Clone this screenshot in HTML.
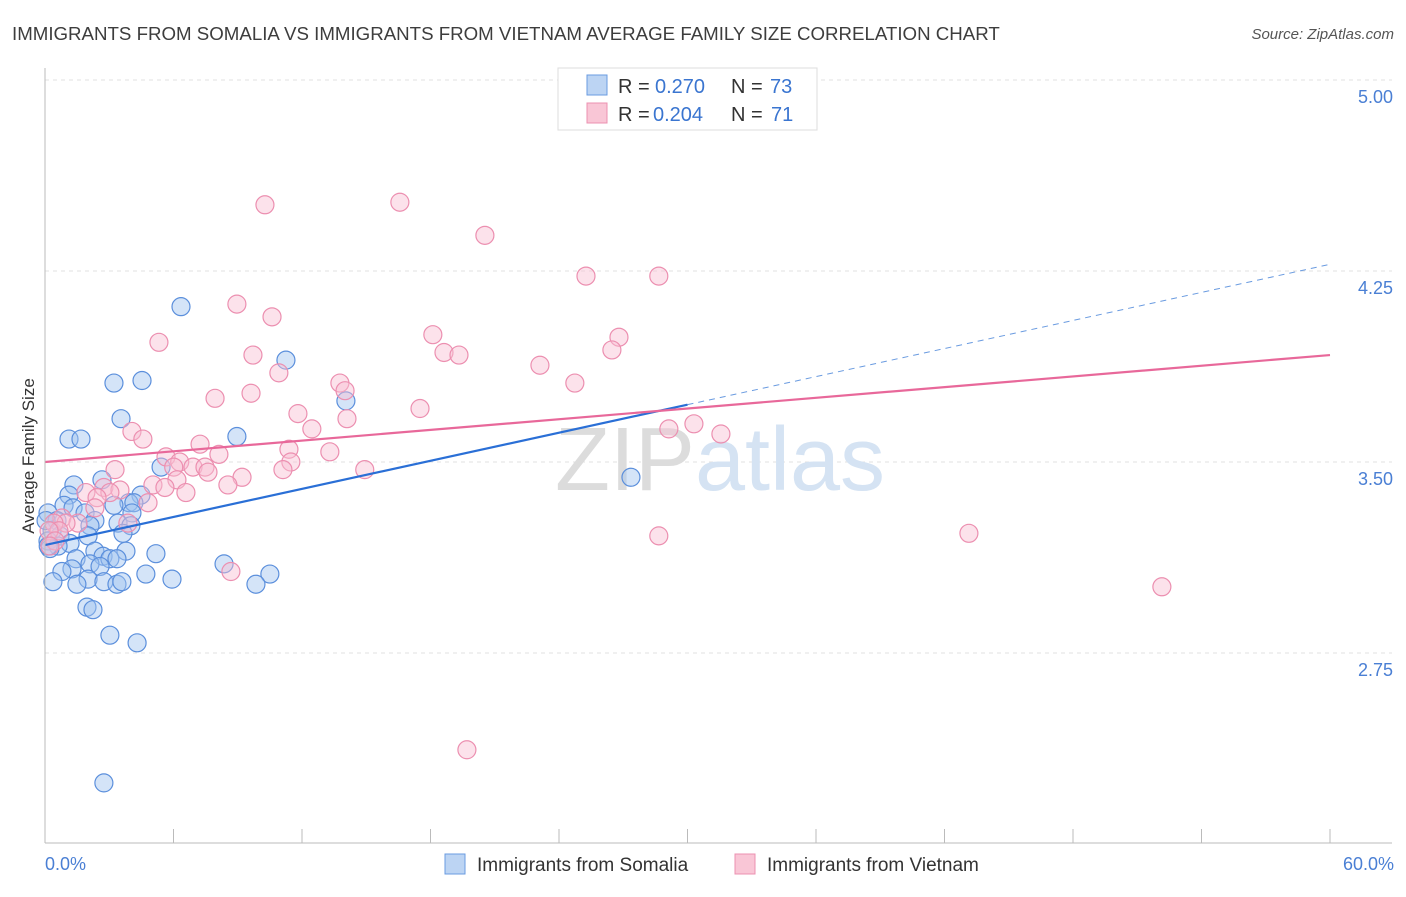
<!DOCTYPE html>
<html><head><meta charset="utf-8"><style>
body{margin:0;background:#fff;font-family:"Liberation Sans",sans-serif;}
svg text{font-family:"Liberation Sans",sans-serif;}
</style></head><body>
<svg id="chart" width="1406" height="892" xmlns="http://www.w3.org/2000/svg">
<text x="12" y="40" font-size="18.7" fill="#3d3d3d">IMMIGRANTS FROM SOMALIA VS IMMIGRANTS FROM VIETNAM AVERAGE FAMILY SIZE CORRELATION CHART</text>
<text x="1394" y="39" font-size="15" fill="#555" text-anchor="end" font-style="italic">Source: ZipAtlas.com</text>
<g id="grid"></g>
<text x="720" y="490" font-size="90" text-anchor="middle" fill="#e6e6e6" font-family="Liberation Serif"><tspan fill="#dcdcdc">ZIP</tspan><tspan fill="#d5e3f3" font-family="Liberation Sans">atlas</tspan></text>
<g id="pts"></g>
<g id="lines"></g>
<g id="axes"></g>
<text transform="translate(34,456) rotate(-90)" font-size="17" fill="#333" text-anchor="middle">Average Family Size</text>
<text x="45" y="870" font-size="18" fill="#4a7fd4">0.0%</text>
<text x="1394" y="870" font-size="18" fill="#4a7fd4" text-anchor="end">60.0%</text>
<g>
<rect x="558" y="68" width="259" height="62" fill="#fff" stroke="#ddd"/>
<rect x="587" y="75" width="20" height="20" fill="#bcd4f3" stroke="#6a9be0"/>
<rect x="587" y="103" width="20" height="20" fill="#f9c6d6" stroke="#ec90b0"/>
<text x="618" y="93" font-size="20" fill="#333">R =</text>
<text x="655" y="93" font-size="20" fill="#3a75d0">0.270</text>
<text x="731" y="93" font-size="20" fill="#333">N =</text>
<text x="770" y="93" font-size="20" fill="#3a75d0">73</text>
<text x="618" y="121" font-size="20" fill="#333">R =</text>
<text x="653" y="121" font-size="20" fill="#3a75d0">0.204</text>
<text x="731" y="121" font-size="20" fill="#333">N =</text>
<text x="771" y="121" font-size="20" fill="#3a75d0">71</text>
</g>
<g>
<rect x="445" y="854" width="20" height="20" fill="#bcd4f3" stroke="#6a9be0"/>
<text x="477" y="871" font-size="19" fill="#333">Immigrants from Somalia</text>
<rect x="735" y="854" width="20" height="20" fill="#f9c6d6" stroke="#ec90b0"/>
<text x="767" y="871" font-size="19" fill="#333">Immigrants from Vietnam</text>
</g>
</svg>
<script>
const yTicks=[2.75,3.50,4.25,5.00];
const yTickLabels=["2.75","3.50","4.25","5.00"];
const blueX=[6.35,11.25,3.22,4.53,14.05,3.55,1.12,1.68,8.96,5.42,27.36,2.66,1.35,1.12,4.48,3.92,4.15,3.22,0.89,1.31,4.06,1.87,0.14,2.33,0.56,3.41,4.01,2.10,0.33,3.64,0.70,2.01,0.14,1.17,0.61,0.23,2.33,3.78,5.18,2.71,1.45,3.03,3.36,8.36,2.10,2.57,1.26,0.79,4.71,10.50,9.85,0.37,2.01,1.49,2.75,3.36,3.59,5.93,1.96,2.24,3.03,4.30,2.75,0.05,0.15];
const blueY=[4.11,3.90,3.81,3.82,3.74,3.67,3.59,3.59,3.60,3.48,3.44,3.43,3.41,3.37,3.37,3.34,3.34,3.33,3.33,3.32,3.30,3.30,3.30,3.27,3.27,3.26,3.25,3.25,3.23,3.22,3.21,3.21,3.19,3.18,3.17,3.16,3.15,3.15,3.14,3.13,3.12,3.12,3.12,3.10,3.10,3.09,3.08,3.07,3.06,3.06,3.02,3.03,3.04,3.02,3.03,3.02,3.03,3.04,2.93,2.92,2.82,2.79,2.24,3.27,3.17];
const pinkX=[10.27,16.57,20.54,25.26,28.66,8.96,10.6,18.11,26.8,5.32,26.47,18.63,19.33,9.71,23.11,10.92,13.77,24.74,14.01,9.62,7.94,17.51,11.81,14.1,30.3,12.46,29.13,31.56,4.06,4.57,7.24,11.39,13.3,8.12,5.65,11.48,6.29,6.01,3.27,6.91,7.47,7.61,11.11,14.93,9.2,6.16,5.04,8.54,5.6,2.75,6.58,1.91,3.5,3.03,2.43,4.81,2.33,0.79,1.54,0.98,0.42,3.87,0.65,0.19,0.47,28.66,43.14,8.68,52.15,19.7,0.23];
const pinkY=[4.51,4.52,4.39,4.23,4.23,4.12,4.07,4.00,3.99,3.97,3.94,3.93,3.92,3.92,3.88,3.85,3.81,3.81,3.78,3.77,3.75,3.71,3.69,3.67,3.65,3.63,3.63,3.61,3.62,3.59,3.57,3.55,3.54,3.53,3.52,3.50,3.50,3.48,3.47,3.48,3.48,3.46,3.47,3.47,3.44,3.43,3.41,3.41,3.40,3.40,3.38,3.38,3.39,3.38,3.36,3.34,3.32,3.28,3.26,3.26,3.26,3.26,3.23,3.23,3.19,3.21,3.22,3.07,3.01,2.37,3.17];
const blueTrend=[3.174,0.01837];
const pinkTrend=[3.50,0.0070];
const NS="http://www.w3.org/2000/svg";
const xs=p=>45+p*(1285/60);
const ys=v=>462-(v-3.5)*(191/0.75);
function mk(tag,attrs,parent){const e=document.createElementNS(NS,tag);for(const k in attrs)e.setAttribute(k,attrs[k]);parent.appendChild(e);return e;}
const grid=document.getElementById('grid');
yTicks.forEach((t,i)=>{
 const l=mk('line',{x1:45,x2:1392,y1:ys(t),y2:ys(t),stroke:'#e2e2e2','stroke-dasharray':'4,4'},grid);
 
 
 const tx=mk('text',{x:1393,y:ys(t)+23,'font-size':18,fill:'#4a7fd4','text-anchor':'end'},grid);
 tx.textContent=yTickLabels[i];
 
 
});
const axes=document.getElementById('axes');
mk('line',{x1:45,x2:45,y1:68,y2:843,stroke:'#bbb'},axes);
mk('line',{x1:45,x2:1392,y1:843,y2:843,stroke:'#bbb'},axes);
for(let p=0;p<=60;p+=6){const t=mk('line',{x1:xs(p),x2:xs(p),y1:829,y2:843,stroke:'#bbb'},axes);
 
 }
const pts=document.getElementById('pts');
blueX.forEach((x,i)=>{const c=mk('circle',{cx:xs(x),cy:ys(blueY[i]),r:9,fill:'rgba(160,196,240,0.45)',stroke:'#5b8fdc','stroke-width':1.2},pts);
 
 });
pinkX.forEach((x,i)=>{const c=mk('circle',{cx:xs(x),cy:ys(pinkY[i]),r:9,fill:'rgba(248,190,210,0.45)',stroke:'#ec8fb0','stroke-width':1.2},pts);
 
 });
const lines=document.getElementById('lines');
const bv=p=>blueTrend[0]+blueTrend[1]*p, pv=p=>pinkTrend[0]+pinkTrend[1]*p;
const bl=mk('line',{x1:xs(0),y1:ys(bv(0)),x2:xs(30),y2:ys(bv(30)),stroke:'#2a6fd6','stroke-width':2.2},lines);


const bd=mk('line',{x1:xs(30),y1:ys(bv(30)),x2:xs(60),y2:ys(bv(60)),stroke:'#6a9be0','stroke-width':1,'stroke-dasharray':'6,5'},lines);


const pl=mk('line',{x1:xs(0),y1:ys(pv(0)),x2:xs(60),y2:ys(pv(60)),stroke:'#e8689a','stroke-width':2.2},lines);


</script>
</body></html>
